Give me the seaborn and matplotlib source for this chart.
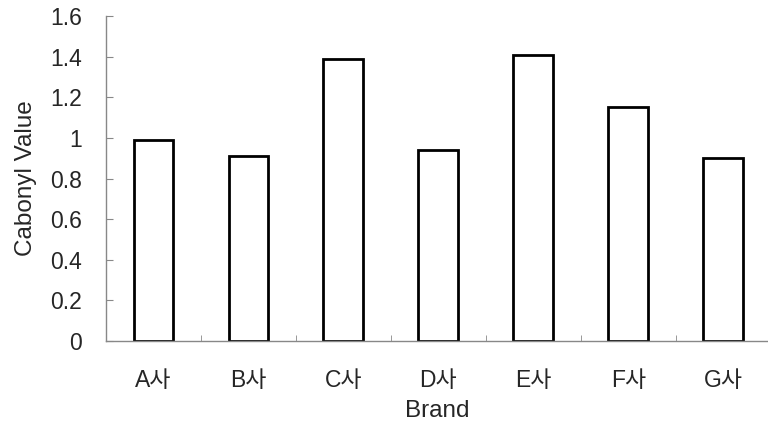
import numpy as np
import pandas as pd
import seaborn as sns
import matplotlib.pyplot as plt

brands = ['A사', 'B사', 'C사', 'D사', 'E사', 'F사', 'G사']
carbonyl = [0.99, 0.91, 1.39, 0.94, 1.41, 1.15, 0.90]
y_ticks = [0, 0.2, 0.4, 0.6, 0.8, 1, 1.2, 1.4, 1.6]
y_labels = ['0', '0.2', '0.4', '0.6', '0.8', '1', '1.2', '1.4', '1.6']

df = pd.DataFrame({'Brand': brands, 'Cabonyl Value': carbonyl})

sns.set_style('ticks')
plt.rcParams['font.family'] = ['Liberation Sans', 'Noto Sans CJK KR', 'DejaVu Sans']

fig = plt.figure(figsize=(7.68, 4.34), dpi=100)
ax = fig.add_axes([0.138, 0.214, 0.862, 0.749])

sns.barplot(data=df, x='Brand', y='Cabonyl Value', color='white',
            edgecolor='black', linewidth=2, width=0.42, ax=ax)

ax.set_ylim(0, 1.6)
ax.set_xlim(-0.5, 6.47)
ax.set_yticks(y_ticks)
ax.set_yticklabels(y_labels)
sns.despine(ax=ax)
for s in ['left', 'bottom']:
    ax.spines[s].set_color('#888888')
    ax.spines[s].set_linewidth(1)

ax.tick_params(axis='y', direction='in', length=5, color='#888888',
               labelsize=16.5, pad=17)
ax.tick_params(axis='x', which='major', length=0, labelsize=16.5, pad=20)
ax.set_xticks(np.arange(len(brands) - 1) + 0.5, minor=True)
ax.tick_params(axis='x', which='minor', direction='in', length=4,
               color='#888888')

ax.set_xlabel('Brand', fontsize=17.5, labelpad=6)
ax.set_ylabel('Cabonyl Value', fontsize=17.5, labelpad=10)

fig.savefig('out.png', dpi=100)
